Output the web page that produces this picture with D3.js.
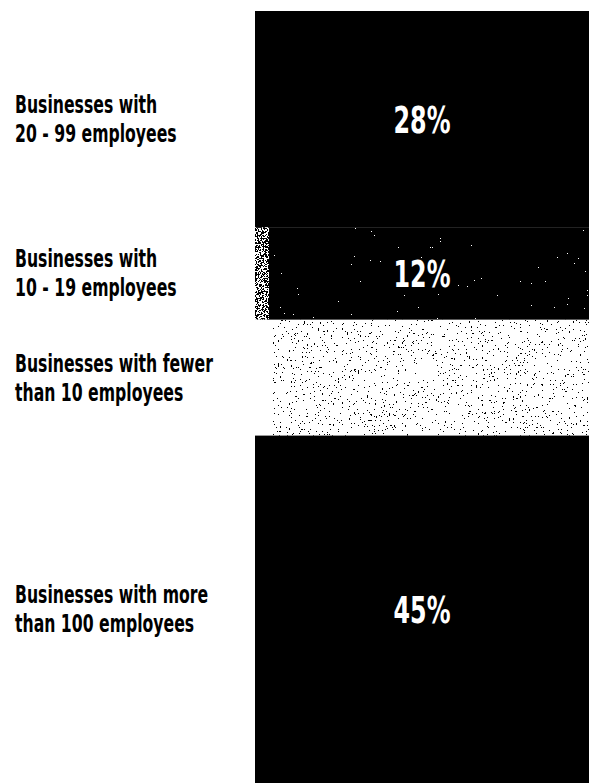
<!DOCTYPE html>
<html>
<head>
<meta charset="utf-8">
<script src="https://cdn.jsdelivr.net/npm/d3@7"></script>
<style>
  html, body { margin: 0; padding: 0; background: #fff; }
  svg { display: block; }
</style>
</head>
<body>
<div id="chart"></div>
<script>
// chart data, top of the bar to bottom
const categories = ["20 - 99", "10 - 19", "fewer than 10", "more than 100"];
const labelLines = [
    ["Businesses with", "20 - 99 employees"],
    ["Businesses with", "10 - 19 employees"],
    ["Businesses with fewer", "than 10 employees"],
    ["Businesses with more", "than 100 employees"]
];
const shares = [28, 12, 15, 45];
const shareLabels = ["28%", "12%", "", "45%"];

const width = 589;
const height = 783;
const barLeft = 255;
const fontFamily = '"DejaVu Sans", sans-serif';

// segment fills: base colour and speckle type (null = plain)
const baseFill = ["#000", "#000", "#fff", "#000"];
const speckle = [null, "light", "dark", null];

const svg = d3.select("#chart")
    .append("svg")
    .attr("width", width)
    .attr("height", height);

// noise filters to mimic the printed stipple
const defs = svg.append("defs");
function addSpeckle(id, freq, table, seed) {
    const f = defs.append("filter")
        .attr("id", id)
        .attr("x", 0).attr("y", 0).attr("width", 1).attr("height", 1);
    f.append("feTurbulence")
        .attr("type", "fractalNoise")
        .attr("baseFrequency", freq)
        .attr("numOctaves", 2)
        .attr("seed", seed)
        .attr("result", "noise");
    f.append("feColorMatrix")
        .attr("in", "noise")
        .attr("type", "matrix")
        .attr("values", "0 0 0 0 0  0 0 0 0 0  0 0 0 0 0  1 0 0 0 0")
        .attr("result", "alpha");
    f.append("feComponentTransfer")
        .attr("in", "alpha")
        .attr("result", "mask")
        .append("feFuncA")
        .attr("type", "discrete")
        .attr("tableValues", table);
    f.append("feComposite")
        .attr("in", "SourceGraphic")
        .attr("in2", "mask")
        .attr("operator", "in");
}
addSpeckle("speck-light", 0.7, "0 0 0 0 0 0 0 0 0 0 0 0 0 1 1 1", 4);
addSpeckle("speck-edge", 0.7, "0 0 0 0 0 0 0 0 1 1 1 1 1 1 1 1", 9);
addSpeckle("speck-dark", 0.55, "0 0 0 0 0 0 0 0 0 0 0 0 0 0 1 1 1 1 1 1", 7);

// stacked positions
const ends = d3.cumsum(shares);
const starts = ends.map((e, i) => e - shares[i]);

const y = d3.scaleLinear()
    .domain([0, d3.sum(shares)])
    .range([11, height]);

const segs = svg.append("g")
    .selectAll("g")
    .data(shares)
    .join("g");

segs.append("rect")
    .attr("x", barLeft)
    .attr("y", (d, i) => y(starts[i]))
    .attr("width", width - barLeft)
    .attr("height", (d, i) => y(ends[i]) - y(starts[i]))
    .attr("fill", (d, i) => baseFill[i]);

// speckle overlays
const lightSeg = segs.filter((d, i) => speckle[i] === "light");
lightSeg.append("rect")
    .attr("x", barLeft)
    .attr("y", y(starts[1]))
    .attr("width", width - barLeft)
    .attr("height", y(ends[1]) - y(starts[1]))
    .attr("fill", "#fff")
    .attr("filter", "url(#speck-light)");
lightSeg.append("rect")
    .attr("x", barLeft)
    .attr("y", y(starts[1]))
    .attr("width", 14)
    .attr("height", y(ends[1]) - y(starts[1]))
    .attr("fill", "#fff")
    .attr("filter", "url(#speck-edge)");

segs.filter((d, i) => speckle[i] === "dark")
    .append("rect")
    .attr("x", barLeft + 18)
    .attr("y", y(starts[2]))
    .attr("width", width - barLeft - 18)
    .attr("height", y(ends[2]) - y(starts[2]))
    .attr("fill", "#000")
    .attr("filter", "url(#speck-dark)");

// percentage labels inside the bar (condensed horizontally)
const pct = svg.append("g")
    .selectAll("text")
    .data(shareLabels)
    .join("text")
    .attr("x", 0)
    .attr("y", (d, i) => (y(starts[i]) + y(ends[i])) / 2 + 14)
    .attr("text-anchor", "middle")
    .attr("font-family", fontFamily)
    .attr("font-weight", "bold")
    .attr("font-size", 38)
    .attr("fill", "#fff")
    .text(d => d);
const pctScale = 57 / pct.filter((d, i) => i === 0).node().getComputedTextLength();
pct.attr("transform", "translate(" + ((barLeft + width) / 2) + ",0) scale(" + pctScale + ",1)");

// category labels on the left, two lines each, centred on their segment
const lineGap = 29;
const labels = svg.append("g")
    .selectAll("text")
    .data(labelLines)
    .join("text")
    .attr("font-family", fontFamily)
    .attr("font-weight", "bold")
    .attr("font-size", 24)
    .attr("fill", "#000")
    .attr("y", (d, i) => (y(starts[i]) + y(ends[i])) / 2 - lineGap / 2 + 8.5);

labels.selectAll("tspan")
    .data(d => d)
    .join("tspan")
    .attr("x", 0)
    .attr("dy", (d, j) => j === 0 ? 0 : lineGap)
    .text(d => d);

// squeeze to the narrow face of the original
const widest = labels.filter((d, i) => i === 2).select("tspan").node().getComputedTextLength();
const labelScale = 198 / widest;
labels.attr("transform", "translate(15,0) scale(" + labelScale + ",1)");
</script>
</body>
</html>
